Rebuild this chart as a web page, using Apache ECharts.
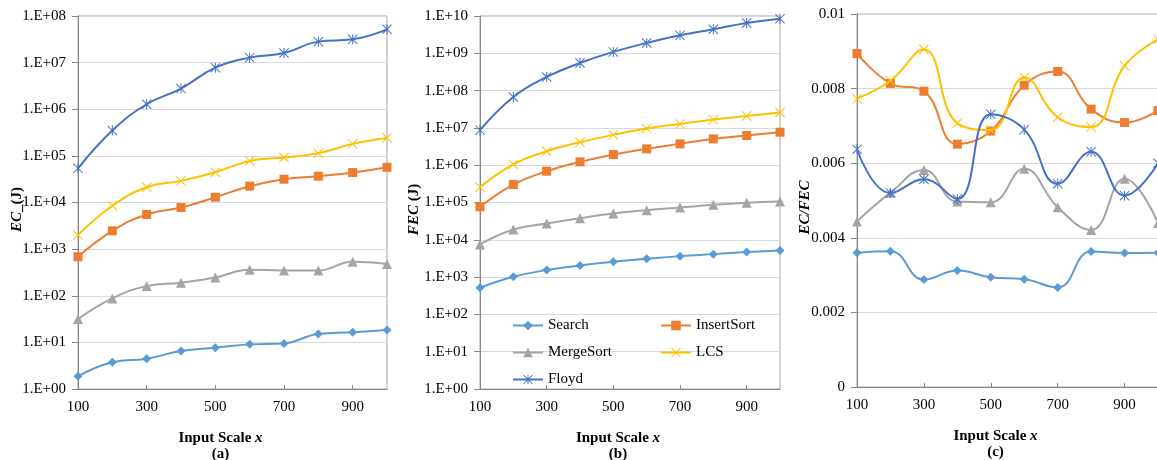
<!DOCTYPE html>
<html>
<head>
<meta charset="utf-8">
<script src="https://cdn.jsdelivr.net/npm/echarts@6.0.0/dist/echarts.min.js"></script>
<style>
  html, body { margin: 0; padding: 0; background: #fff; }
  #chart { width: 1157px; height: 460px; }
</style>
</head>
<body>
<div id="chart"></div>
<script>
// input scale x
const scales = ['100', '200', '300', '400', '500', '600', '700', '800', '900', '1000']
const names = ['Search', 'InsertSort', 'MergeSort', 'LCS', 'Floyd']

// (a) EC (J)
const ecSearch = [1.87, 3.73, 4.47, 6.52, 7.69, 9.06, 9.5, 15.1, 16.4, 18.4]
const ecInsert = [686, 2470, 5530, 7800, 13000, 22400, 31600, 36700, 43900, 57100]
const ecMerge = [31.6, 87.7, 161, 190, 247, 361, 349, 349, 535, 477]
const ecLcs = [2000, 8500, 21300, 29100, 44700, 78000, 92000, 114000, 181000, 243000]
const ecFloyd = [54000, 350000, 1280000, 2770000, 7800000, 12800000, 16100000, 28200000, 31600000, 51800000]

// (b) FEC (J)
const fecSearch = [518, 1020, 1540, 2050, 2580, 3100, 3650, 4130, 4680, 5180]
const fecInsert = [76500, 303000, 690000, 1230000, 1930000, 2740000, 3730000, 5070000, 6230000, 7650000]
const fecMerge = [7500, 18900, 27400, 38000, 50700, 62300, 73500, 86600, 98000, 106000]
const fecLcs = [258000, 1060000, 2370000, 4130000, 6500000, 9600000, 12800000, 16700000, 21000000, 25800000]
const fecFloyd = [8.7e6, 6.76e7, 2.32e8, 5.5e8, 1.09e9, 1.89e9, 3.03e9, 4.4e9, 6.5e9, 8.5e9]

// (c) EC/FEC
const ratioSearch = [0.0036, 0.00364, 0.00288, 0.00312, 0.00294, 0.00289, 0.00267, 0.00363, 0.00359, 0.0036]
const ratioInsert = [0.00894, 0.00814, 0.00793, 0.00651, 0.00686, 0.00809, 0.00846, 0.00745, 0.00709, 0.00741]
const ratioMerge = [0.00444, 0.00521, 0.00582, 0.00497, 0.00495, 0.00585, 0.00482, 0.00421, 0.00558, 0.0044]
const ratioLcs = [0.00773, 0.00821, 0.00905, 0.00707, 0.00689, 0.0083, 0.00723, 0.00697, 0.00861, 0.00932]
const ratioFloyd = [0.006375, 0.0052, 0.00557, 0.00504, 0.00731, 0.0069, 0.00545, 0.00631, 0.00513, 0.006]

const font = 'Liberation Serif'
const colors = ['#5B9BD5', '#ED7D31', '#A5A5A5', '#FFC000', '#4472C4']
const crossPath = 'path://M0,0.7 L0.7,0 L5,4.3 L9.3,0 L10,0.7 L5.7,5 L10,9.3 L9.3,10 L5,5.7 L0.7,10 L0,9.3 L4.3,5 Z'
const starPath = crossPath + ' M4.5,0 L5.5,0 L5.5,10 L4.5,10 Z'
const symbols = ['diamond', 'rect', 'triangle', crossPath, starPath]
const symbolSizes = [9, 9, 10, 10, 10]

const panels = [
  [ecSearch, ecInsert, ecMerge, ecLcs, ecFloyd],
  [fecSearch, fecInsert, fecMerge, fecLcs, fecFloyd],
  [ratioSearch, ratioInsert, ratioMerge, ratioLcs, ratioFloyd],
]

const grids = [
  { left: 78, top: 16, width: 309, height: 373 },
  { left: 480, top: 16, width: 300, height: 373 },
  { left: 857, top: 14, width: 301, height: 373 },
]

function logLabel(v) {
  const e = Math.round(Math.log10(v))
  return '1.E+' + (e < 10 ? '0' + e : e)
}

const axisLine = { show: true, lineStyle: { color: '#868686', width: 1 } }
const splitLine = { show: true, lineStyle: { color: '#d9d9d9', width: 1 } }
const labelStyle = { fontFamily: font, fontSize: 15, color: '#000' }
const nameBase = { fontFamily: font, fontSize: 15, fontWeight: 'bold', color: '#000' }
const richName = {
  b: { fontFamily: font, fontSize: 15, fontWeight: 'bold', color: '#000', lineHeight: 16 },
  bi: { fontFamily: font, fontSize: 15, fontWeight: 'bold', fontStyle: 'italic', color: '#000', lineHeight: 16 },
}

const letters = ['(a)', '(b)', '(c)']
const xAxes = grids.map((g, i) => ({
  type: 'category',
  gridIndex: i,
  data: scales,
  boundaryGap: false,
  axisLine: axisLine,
  axisTick: { show: true, inside: true, length: 4, interval: 1, lineStyle: { color: '#868686' } },
  axisLabel: Object.assign({ interval: 1, margin: 11 }, labelStyle),
  splitLine: { show: false },
  name: '{b|Input Scale }{bi|x}\n{b|' + letters[i] + '}',
  nameLocation: 'middle',
  nameGap: 41,
  nameMoveOverlap: false,
  nameTextStyle: Object.assign({ rich: richName, padding: [0, 24, 0, 0] }, nameBase),
}))

const yNames = ['{bi|EC}{b|_(J)}', '{bi|FEC}{b| (J)}', '{bi|EC/FEC}']
const yGaps = [53, 58, 44]
const yAxes = grids.map((g, i) => {
  const ax = {
    gridIndex: i,
    axisLine: axisLine,
    axisTick: { show: true, length: 6, lineStyle: { color: '#868686' } },
    axisLabel: Object.assign({ margin: 12 }, labelStyle),
    splitLine: splitLine,
    name: yNames[i],
    nameLocation: 'middle',
    nameRotate: 90,
    nameGap: yGaps[i],
    nameMoveOverlap: false,
    nameTextStyle: Object.assign({ rich: richName, padding: [0, 14, 0, 0] }, nameBase),
  }
  if (i < 2) {
    ax.type = 'log'
    ax.logBase = 10
    ax.min = 1
    ax.max = i === 0 ? 1e8 : 1e10
    ax.interval = 1
    ax.splitNumber = i === 0 ? 8 : 10
    ax.axisLabel.formatter = logLabel
  } else {
    ax.type = 'value'
    ax.min = 0
    ax.max = 0.01
    ax.interval = 0.002
  }
  return ax
})

const series = []
panels.forEach((list, p) => {
  list.forEach((data, k) => {
    series.push({
      name: names[k],
      type: 'line',
      xAxisIndex: p,
      yAxisIndex: p,
      data: data,
      smooth: 0.45,
      symbol: symbols[k],
      symbolSize: symbolSizes[k],
      showAllSymbol: true,
      color: colors[k],
      lineStyle: { width: 2, color: colors[k] },
      itemStyle: { color: colors[k] },
      z: 2 + k,
    })
  })
})

const legendText = { fontFamily: font, fontSize: 15, color: '#000' }
const option = {
  animation: false,
  backgroundColor: '#fff',
  grid: grids.map(g => Object.assign({
    show: true, borderColor: '#a6a6a6', borderWidth: 1, backgroundColor: 'transparent', outerBoundsMode: 'none'
  }, g)),
  legend: [
    { data: ['Search', 'MergeSort', 'Floyd'], orient: 'vertical', left: 507, top: 313,
      itemWidth: 30, itemHeight: 12, itemGap: 12, textStyle: legendText },
    { data: ['InsertSort', 'LCS'], orient: 'vertical', left: 655, top: 313,
      itemWidth: 30, itemHeight: 12, itemGap: 12, textStyle: legendText },
  ],
  xAxis: xAxes,
  yAxis: yAxes,
  series: series,
}

const myChart = echarts.init(document.getElementById('chart'))
myChart.setOption(option)
</script>
</body>
</html>
